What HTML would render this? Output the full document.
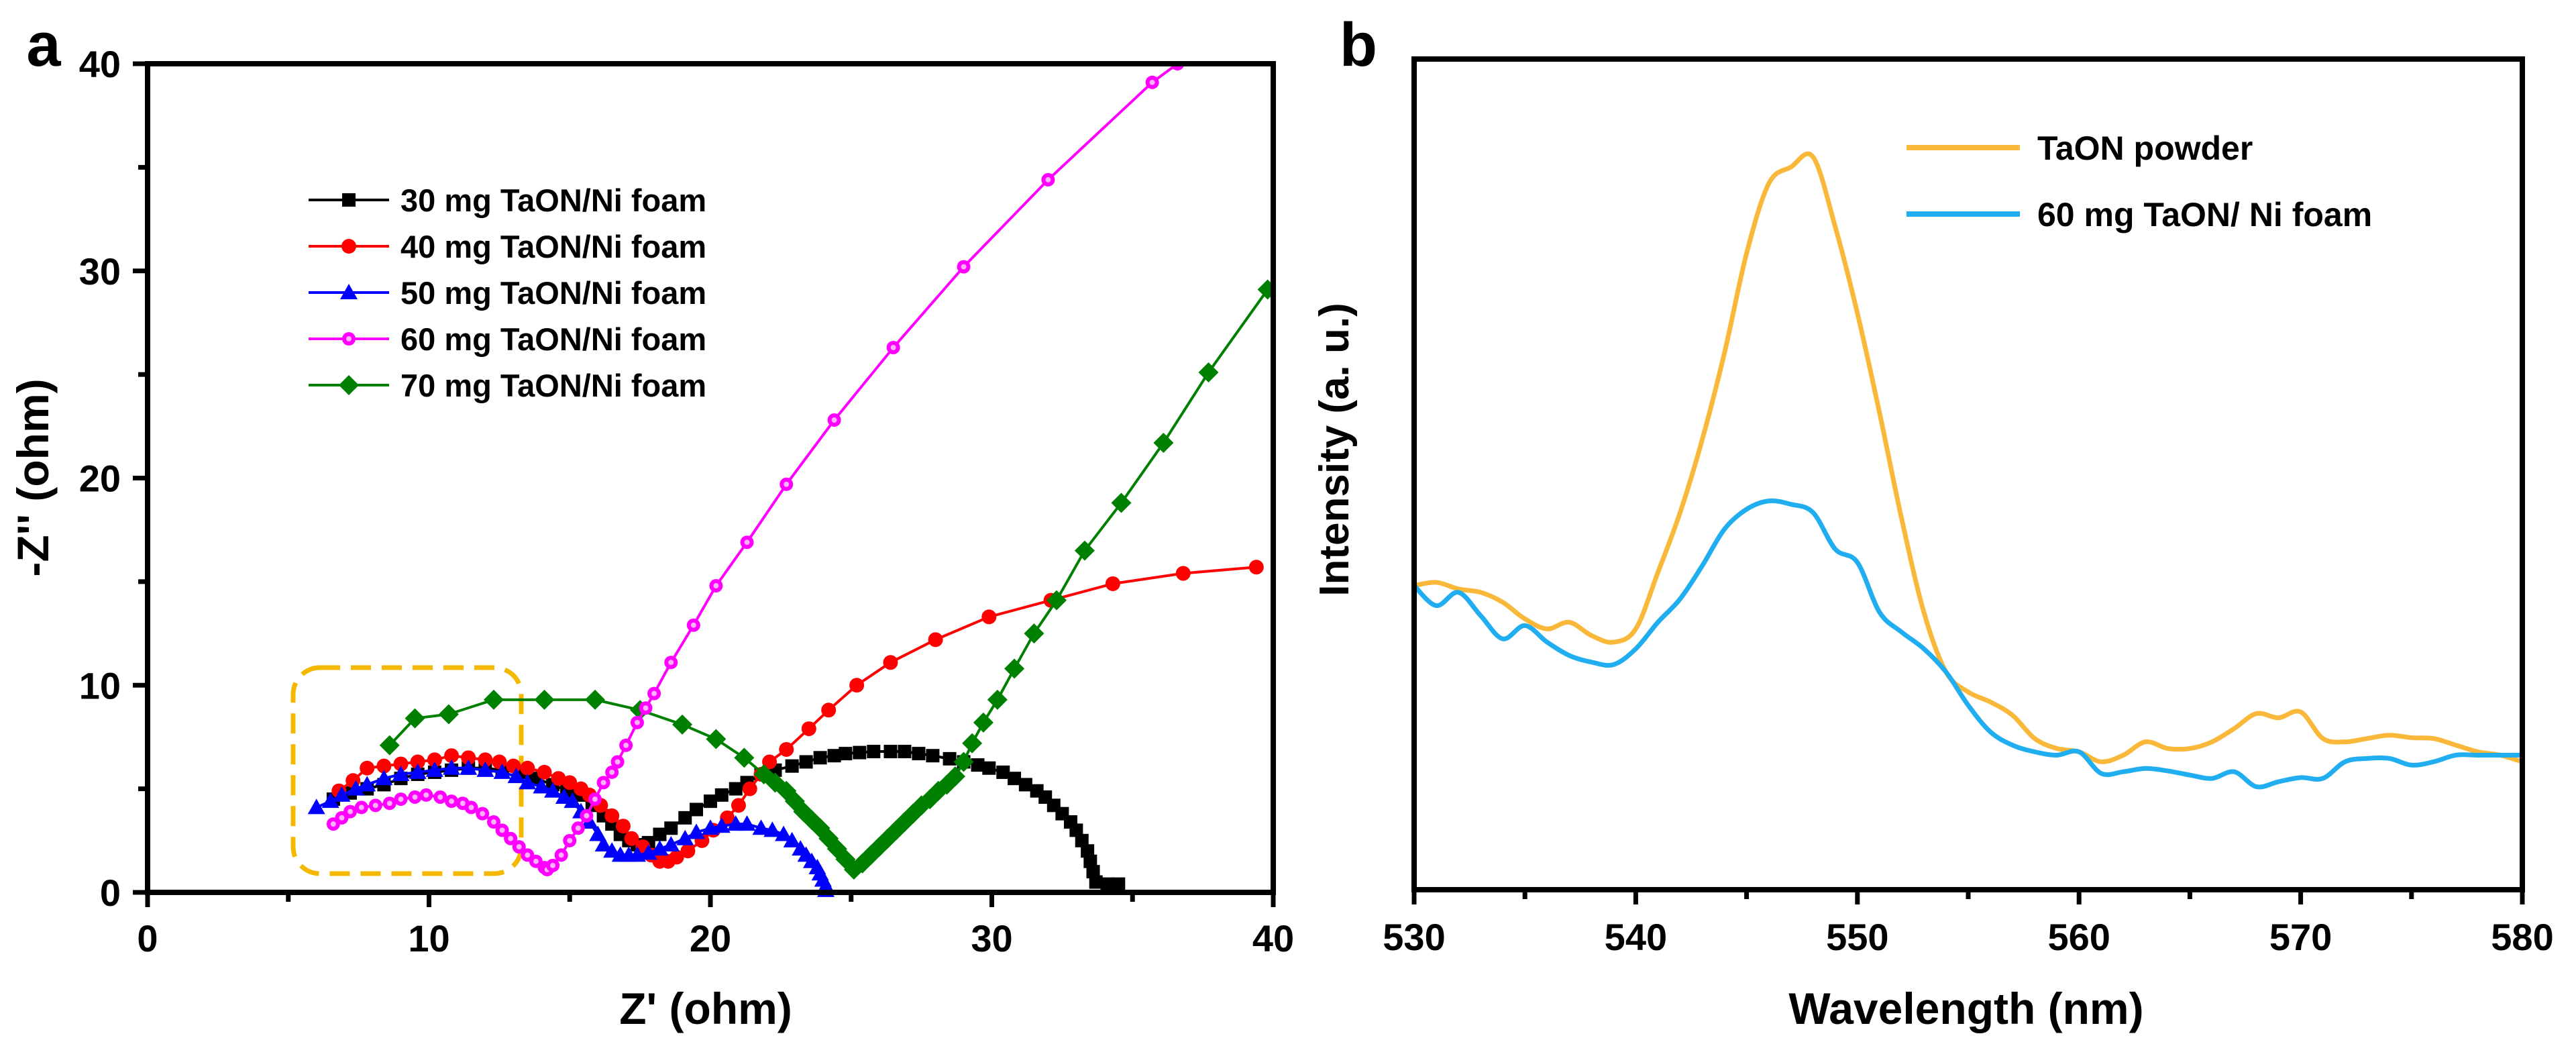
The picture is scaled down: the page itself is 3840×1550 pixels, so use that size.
<!DOCTYPE html>
<html><head><meta charset="utf-8"><style>
html,body{margin:0;padding:0;background:#fff;}
svg{display:block;font-family:"Liberation Sans",Arial,sans-serif;font-weight:bold;}
</style></head><body>
<svg id="fig" width="3840" height="1550" viewBox="0 0 3840 1550" xmlns="http://www.w3.org/2000/svg">
<g id="pa"></g>
<g id="pb"></g>
</svg>
<script>
// ---- Panel a data (Z', -Z'') ----
const s30x=[6.6,7.2,7.8,8.4,9.0,9.6,10.2,10.8,11.4,12.0,12.6,13.2,13.8,14.4,14.9,15.3,15.8,16.2,16.5,16.8,17.1,17.4,17.8,18.2,18.6,19.1,19.5,20.0,20.4,20.9,21.3,21.8,22.3,22.9,23.4,23.9,24.4,24.8,25.3,25.8,26.4,26.9,27.4,27.9,28.5,29.0,29.5,29.9,30.4,30.8,31.2,31.6,31.9,32.2,32.5,32.8,33.0,33.2,33.4,33.5,33.6,33.7,34.1,34.5];
const s30y=[4.5,4.8,5.0,5.2,5.5,5.7,5.8,5.9,6.0,6.0,5.9,5.8,5.5,5.2,4.9,4.7,4.2,3.7,3.3,2.8,2.5,2.3,2.4,2.8,3.1,3.6,4.0,4.4,4.7,5.0,5.3,5.7,5.9,6.1,6.3,6.5,6.6,6.7,6.75,6.8,6.8,6.8,6.7,6.6,6.45,6.3,6.15,6.0,5.8,5.5,5.2,4.9,4.6,4.2,3.8,3.4,3.0,2.5,2.0,1.5,1.0,0.5,0.4,0.4];
const s40x=[6.8,7.3,7.8,8.4,9.0,9.6,10.2,10.8,11.4,12.0,12.5,13.0,13.5,14.1,14.6,15.0,15.4,15.7,16.1,16.5,16.9,17.2,17.6,17.9,18.2,18.5,18.8,19.2,19.7,20.1,20.6,21.0,21.4,21.8,22.1,22.7,23.5,24.2,25.2,26.4,28.0,29.9,32.1,34.3,36.8,39.4];
const s40y=[4.9,5.4,6.0,6.1,6.2,6.3,6.4,6.6,6.5,6.4,6.3,6.1,6.0,5.8,5.5,5.3,5.0,4.7,4.2,3.7,3.2,2.6,2.2,1.8,1.5,1.5,1.7,2.0,2.5,3.0,3.6,4.2,5.0,5.7,6.3,6.9,7.9,8.8,10.0,11.1,12.2,13.3,14.1,14.9,15.4,15.7];
const s50x=[6.0,6.5,6.9,7.4,7.8,8.4,9.0,9.6,10.2,10.8,11.4,12.0,12.6,13.1,13.5,14.0,14.4,14.8,15.1,15.4,15.7,16.0,16.2,16.5,16.8,17.1,17.4,17.8,18.2,18.6,19.1,19.5,20.0,20.4,20.9,21.3,21.8,22.2,22.6,22.9,23.2,23.4,23.6,23.8,23.9,24.0,24.1,24.1];
const s50y=[4.1,4.4,4.7,5.0,5.2,5.5,5.7,5.8,5.9,6.0,6.0,5.9,5.8,5.6,5.3,5.1,4.9,4.6,4.4,3.9,3.4,2.8,2.3,2.0,1.8,1.8,1.8,1.9,2.1,2.3,2.6,2.9,3.1,3.2,3.3,3.3,3.1,3.0,2.8,2.5,2.1,1.8,1.5,1.2,0.9,0.6,0.3,0.1];
const s60x=[6.6,6.9,7.2,7.6,8.1,8.6,9.0,9.5,9.9,10.4,10.8,11.2,11.5,11.9,12.3,12.6,12.9,13.2,13.5,13.8,14.1,14.2,14.4,14.7,15.0,15.3,15.6,15.9,16.2,16.5,16.7,17.0,17.4,17.7,18.0,18.6,19.4,20.2,21.3,22.7,24.4,26.5,29.0,32.0,35.7,36.6];
const s60y=[3.3,3.6,3.9,4.1,4.2,4.3,4.5,4.6,4.7,4.6,4.4,4.3,4.1,3.8,3.4,3.0,2.6,2.2,1.8,1.5,1.2,1.1,1.3,1.8,2.5,3.1,3.7,4.5,5.3,5.8,6.3,7.1,8.2,8.9,9.6,11.1,12.9,14.8,16.9,19.7,22.8,26.3,30.2,34.4,39.1,40.0];
const s70x=[8.6,9.5,10.7,12.3,14.1,15.9,17.5,19.0,20.2,21.2,21.9,22.3,22.7,23.0,23.3,23.6,23.9,24.2,24.5,24.8,25.1,25.4,25.7,26.0,26.3,26.6,26.9,27.2,27.5,27.8,28.1,28.4,28.7,29.0,29.3,29.7,30.2,30.8,31.5,32.3,33.3,34.6,36.1,37.7,39.8];
const s70y=[7.1,8.4,8.6,9.3,9.3,9.3,8.8,8.1,7.4,6.5,5.7,5.3,4.9,4.4,3.9,3.5,3.1,2.6,2.1,1.6,1.1,1.4,1.8,2.2,2.6,3.0,3.4,3.8,4.2,4.5,4.9,5.2,5.6,6.3,7.2,8.2,9.3,10.8,12.5,14.1,16.5,18.8,21.7,25.1,29.1];
const aXTicks=[0,10,20,30,40];
const aYTicks=[0,10,20,30,40];
const aLegendLabels=["30 mg TaON/Ni foam","40 mg TaON/Ni foam","50 mg TaON/Ni foam","60 mg TaON/Ni foam","70 mg TaON/Ni foam"];
// ---- Panel b data ----
const wl=[530,531,532,533,534,535,536,537,538,539,540,541,542,543,544,545,546,547,548,549,550,551,552,553,554,555,556,557,558,559,560,561,562,563,564,565,566,567,568,569,570,571,572,573,574,575,576,577,578,579,580];
const taonPowder=[36.6,37.0,36.2,35.8,34.6,32.6,31.4,32.2,30.6,29.8,31.4,38.2,45.4,54.2,64.6,76.6,85.0,87.0,88.2,79.8,69.4,57.4,44.6,33.4,26.2,23.8,22.6,21.0,18.2,17.0,16.6,15.4,16.2,17.8,17.0,17.0,17.8,19.4,21.2,20.7,21.4,18.2,17.8,18.2,18.6,18.3,18.2,17.4,16.6,16.2,15.4];
const taonFoam=[36.6,34.2,35.8,33.0,30.2,31.8,29.8,28.2,27.4,27.1,29.0,32.2,35.0,39.0,43.4,45.8,46.8,46.4,45.4,41.0,39.4,33.4,31.0,29.0,26.2,22.2,19.0,17.4,16.6,16.2,16.6,14.0,14.2,14.6,14.3,13.8,13.4,14.2,12.4,13.0,13.5,13.4,15.4,15.8,15.8,15.0,15.4,16.2,16.2,16.2,16.2];
const bXTicks=[530,540,550,560,570,580];
const bLegendLabels=["TaON powder","60 mg TaON/ Ni foam"];

const NS="http://www.w3.org/2000/svg";
function mk(parent,tag,attrs,text){const e=document.createElementNS(NS,tag);for(const k in attrs)e.setAttribute(k,attrs[k]);if(text!==undefined)e.textContent=text;parent.appendChild(e);return e;}

// ===== Panel a =====
const A={l:220,r:1898,t:95,b:1330};
const ax=v=>A.l+(v-0)/40*(A.r-A.l);
const ay=v=>A.b-(v-0)/40*(A.b-A.t);
const pa=document.getElementById('pa');
let t=mk(pa,'text',{x:65,y:98,'font-size':92,'text-anchor':'middle'},'a');


let box=mk(pa,'rect',{x:437,y:995,width:340,height:307,rx:40,fill:'none',stroke:'#f5b800','stroke-width':7,'stroke-dasharray':'30 16'});


const cp=mk(pa,'clipPath',{id:'clipA'});mk(cp,'rect',{x:A.l,y:A.t,width:A.r-A.l,height:A.b-A.t+30});
const seriesA=[
 {x:s30x,y:s30y,c:'#000',m:'square',n:'series-30mg'},
 {x:s40x,y:s40y,c:'#ff0000',m:'circle',n:'series-40mg'},
 {x:s50x,y:s50y,c:'#0000ff',m:'tri',n:'series-50mg'},
 {x:s70x,y:s70y,c:'#008000',m:'diamond',n:'series-70mg'},
 {x:s60x,y:s60y,c:'#ff00ff',m:'ocircle',n:'series-60mg'}];
function marker(g,m,x,y,c){
 if(m==='square')return mk(g,'rect',{x:x-10,y:y-10,width:20,height:20,fill:c});
 if(m==='circle')return mk(g,'circle',{cx:x,cy:y,r:11,fill:c});
 if(m==='tri')return mk(g,'polygon',{points:`${x},${y-13} ${x+13},${y+10} ${x-13},${y+10}`,fill:c});
 if(m==='diamond')return mk(g,'polygon',{points:`${x},${y-15} ${x+15},${y} ${x},${y+15} ${x-15},${y}`,fill:c});
 const q=mk(g,'circle',{cx:x,cy:y,r:10,fill:c});mk(g,'circle',{cx:x,cy:y,r:4,fill:'#ffb0ff'});return q;
}
seriesA.forEach(s=>{
 const g=mk(pa,'g',{'clip-path':'url(#clipA)'});
 
 
 mk(g,'polyline',{points:s.x.map((v,i)=>ax(v)+','+ay(s.y[i])).join(' '),fill:'none',stroke:s.c,'stroke-width':4});
 s.x.forEach((v,i)=>{const e=marker(g,s.m,ax(v),ay(s.y[i]),s.c);
  
  });
});
let fr=mk(pa,'rect',{x:A.l,y:A.t,width:A.r-A.l,height:A.b-A.t,fill:'none',stroke:'#000','stroke-width':8});


for(let v=0;v<=40;v+=5){const maj=v%10===0;
 mk(pa,'line',{x1:ax(v),x2:ax(v),y1:A.b,y2:A.b+(maj?22:14),stroke:'#000','stroke-width':7});
 mk(pa,'line',{x1:A.l,x2:A.l-(maj?22:14),y1:ay(v),y2:ay(v),stroke:'#000','stroke-width':7});}
aXTicks.forEach(v=>{const e=mk(pa,'text',{x:ax(v),y:1418,'font-size':56,'text-anchor':'middle'},String(v));
 
 });
aYTicks.forEach(v=>{const e=mk(pa,'text',{x:180,y:ay(v)+20,'font-size':56,'text-anchor':'end'},String(v));
 
 });
t=mk(pa,'text',{x:1052,y:1526,'font-size':66,'text-anchor':'middle'},"Z' (ohm)");


t=mk(pa,'text',{x:0,y:0,'font-size':66,'text-anchor':'middle',transform:'translate(72,712) rotate(-90)'},"-Z'' (ohm)");


const legOrder=[0,1,2,4,3];
aLegendLabels.forEach((lab,i)=>{const s=seriesA[legOrder[i]];const y=298+i*69;
 const g=mk(pa,'g',{});
 
 
 mk(g,'line',{x1:460,x2:580,y1:y,y2:y,stroke:s.c,'stroke-width':4});
 marker(g,s.m,520,y,s.c);
 mk(g,'text',{x:597,y:y+17,'font-size':47},lab);});

// ===== Panel b =====
const B={l:2108,r:3760,t:88,b:1326};
const bx=v=>B.l+(v-530)/50*(B.r-B.l);
const by=v=>B.b-v/100*(B.b-B.t);
const pb=document.getElementById('pb');
t=mk(pb,'text',{x:2025,y:98,'font-size':92,'text-anchor':'middle'},'b');


function smooth(xs,ys){const p=xs.map((v,i)=>[bx(v),by(ys[i])]);let d='M'+p[0];
 for(let i=0;i<p.length-1;i++){const p0=p[i-1]||p[i],p1=p[i],p2=p[i+1],p3=p[i+2]||p2;
  d+=` C${p1[0]+(p2[0]-p0[0])/6},${p1[1]+(p2[1]-p0[1])/6} ${p2[0]-(p3[0]-p1[0])/6},${p2[1]-(p3[1]-p1[1])/6} ${p2[0]},${p2[1]}`;}
 return d;}
const seriesB=[{y:taonPowder,c:'#f9b83a',n:'series-taon-powder'},{y:taonFoam,c:'#21aef0',n:'series-60mg-taon-ni-foam'}];
seriesB.forEach(s=>{const e=mk(pb,'path',{d:smooth(wl,s.y),fill:'none',stroke:s.c,'stroke-width':7,'stroke-linejoin':'round'});
 
 });
fr=mk(pb,'rect',{x:B.l,y:B.t,width:B.r-B.l,height:B.b-B.t,fill:'none',stroke:'#000','stroke-width':8});


for(let v=530;v<=580;v+=5){const maj=v%10===0;
 mk(pb,'line',{x1:bx(v),x2:bx(v),y1:B.b,y2:B.b+(maj?22:14),stroke:'#000','stroke-width':7});}
bXTicks.forEach(v=>{const e=mk(pb,'text',{x:bx(v),y:1416,'font-size':56,'text-anchor':'middle'},String(v));
 
 });
t=mk(pb,'text',{x:2931,y:1526,'font-size':66,'text-anchor':'middle'},'Wavelength (nm)');


t=mk(pb,'text',{x:0,y:0,'font-size':62,'text-anchor':'middle',transform:'translate(2010,670) rotate(-90)'},'Intensity (a. u.)');


bLegendLabels.forEach((lab,i)=>{const y=220+i*99;const g=mk(pb,'g',{});
 
 
 mk(g,'line',{x1:2842,x2:3011,y1:y,y2:y,stroke:seriesB[i].c,'stroke-width':8});
 mk(g,'text',{x:3037,y:y+18,'font-size':50},lab);});
</script>
</body></html>
